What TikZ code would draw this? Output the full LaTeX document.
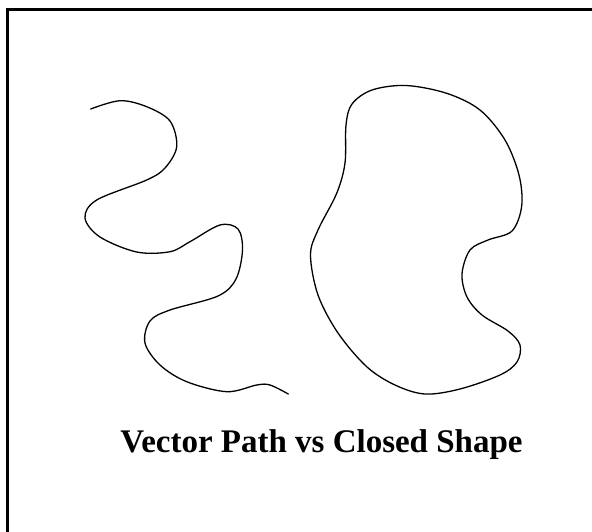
\documentclass[tikz,border=0pt]{standalone}
\usepackage{fontspec}
\setmainfont{Liberation Serif}
\usepackage{tikz}
\usetikzlibrary{positioning}
\tikzset{
  frameline/.style={draw=black, line width=3pt},
  pathline/.style={draw=black, line width=1.3pt, line join=round, line cap=round},
  captiontext/.style={font=\bfseries\fontsize{33}{33}\selectfont, inner sep=0pt, anchor=base},
}

\begin{document}
\begin{tikzpicture}[x=1pt, y=-1pt]
    \path[use as bounding box] (0,0) rectangle (592,531);
    \clip (0,0) rectangle (592,531);
    \fill[white] (0,0) rectangle (592,531);
    % frame, open at right and bottom
    \draw[frameline] (7.5,600) -- (7.5,9) -- (650,9);
    % open vector path
    \draw[pathline] plot[smooth, tension=0.55] coordinates {
      (90.7,109) (120,100.7) (146.7,106.7) (170,121) (176.7,146.7) (165,168)
      (146.7,180) (96.7,200) (85,218) (100,237) (136.7,252) (170,251.7)
      (190,241.7) (220,225) (238,229) (242.5,250) (236,279) (218,296)
      (170,310) (150,321) (145,343) (160,365) (186.7,381.7) (226.7,391.7)
      (256.7,385) (270,385) (288.3,394)};
    % closed shape
    \draw[pathline] plot[smooth cycle, tension=0.55] coordinates {
      (406,85.5) (446.7,93.3) (480,110) (505,140) (519,175) (521.7,206)
      (512,231) (488,240) (470,250) (462,274) (467,297) (482,315)
      (508,331) (520,345) (517,362) (500,375) (460,389) (425,394)
      (395,385) (366.7,366.7) (338,333) (318,295) (310.5,255) (318,230)
      (336.7,193.3) (345,163) (346,125) (352,104) (372,90)};
    \node[captiontext] (caption) at (321.5,452) {Vector Path vs Closed Shape};
\end{tikzpicture}
\end{document}
